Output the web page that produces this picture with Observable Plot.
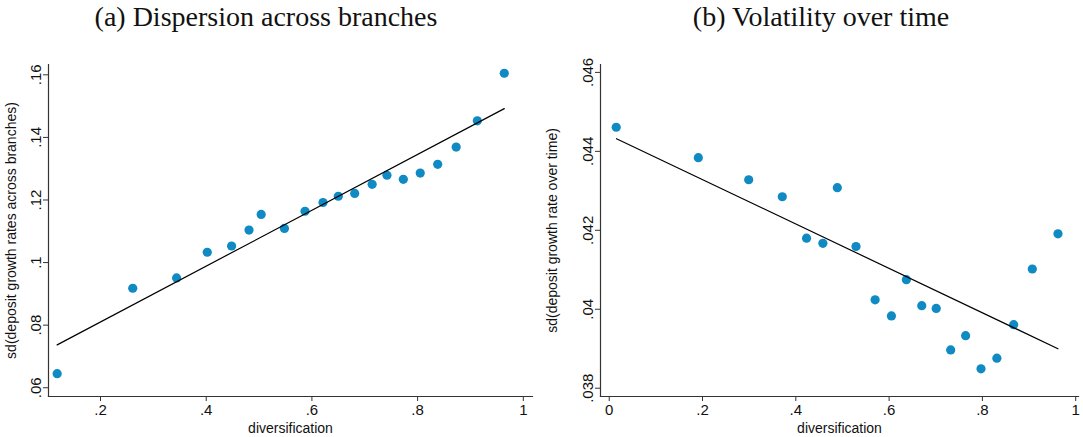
<!DOCTYPE html>
<html>
<head>
<meta charset="utf-8">
<script src="https://cdn.jsdelivr.net/npm/d3@7"></script>
<script src="https://cdn.jsdelivr.net/npm/@observablehq/plot@0.6"></script>
<style>
  html, body { margin: 0; padding: 0; background: #fff; }
  #root { position: relative; width: 1083px; height: 437px; overflow: hidden; background: #fff; }
  .ptitle { position: absolute; top: 0; font-family: "Liberation Serif", "Times New Roman", serif; font-size: 28px; color: #111; white-space: nowrap; transform: translateX(-50%); line-height: 34px; }
  .panel { position: absolute; top: 40px; }
  g[aria-label="x-axis label"] text, g[aria-label="y-axis label"] text { font-size: 14px; }
</style>
</head>
<body>
<div id="root">
  <div class="ptitle" style="left:266px">(a) Dispersion across branches</div>
  <div class="ptitle" style="left:821px">(b) Volatility over time</div>
  <div class="panel" id="pa" style="left:0px"></div>
  <div class="panel" id="pb" style="left:541px"></div>
</div>
<script>
// ---- Panel (a): dispersion across branches ----
const divA = [0.118, 0.261, 0.344, 0.402, 0.448, 0.481, 0.504, 0.548, 0.587, 0.621, 0.650, 0.681, 0.714, 0.742, 0.773, 0.805, 0.838, 0.873, 0.913, 0.964];
const sdA  = [0.0645, 0.0918, 0.0951, 0.1033, 0.1053, 0.1104, 0.1154, 0.1109, 0.1164, 0.1192, 0.1212, 0.1221, 0.1250, 0.1279, 0.1266, 0.1286, 0.1314, 0.1369, 0.1453, 0.1605];
const fitAx = [0.118, 0.964];
const fitAy = [0.0737, 0.1492];
const xTicksA = [0.2, 0.4, 0.6, 0.8, 1];
const yTicksA = [0.06, 0.08, 0.1, 0.12, 0.14, 0.16];

// ---- Panel (b): volatility over time ----
const divB = [0.015, 0.191, 0.299, 0.371, 0.423, 0.458, 0.489, 0.529, 0.570, 0.605, 0.637, 0.670, 0.701, 0.732, 0.764, 0.797, 0.831, 0.867, 0.907, 0.962];
const sdB  = [0.04461, 0.04384, 0.04328, 0.04285, 0.04180, 0.04167, 0.04308, 0.04159, 0.04024, 0.03983, 0.04075, 0.04009, 0.04002, 0.03897, 0.03933, 0.03849, 0.03876, 0.03961, 0.04102, 0.04191];
const fitBx = [0.0156, 0.962];
const fitBy = [0.04432, 0.03900];
const xTicksB = [0, 0.2, 0.4, 0.6, 0.8, 1];
const yTicksB = [0.038, 0.04, 0.042, 0.044, 0.046];

const dotColor = "#0f8ac3";
const axisColor = "#333";
const fmt = d => d === 0 ? "0" : String(+d.toFixed(4)).replace(/^0\./, ".");

function panel({xs, ys, fx, fy, xTicks, yTicks, xDomain, yDomain, yLabel, width, marginLeft, marginRight}) {
  const pts = xs.map((x, i) => ({x, y: ys[i]}));
  const fit = fx.map((x, i) => ({x, y: fy[i]}));
  return Plot.plot({
    width, height: 397,
    marginLeft, marginRight, marginTop: 24, marginBottom: 41,
    x: {domain: xDomain},
    y: {domain: yDomain},
    style: {fontFamily: "'Liberation Sans', Arial, sans-serif", fontSize: "15px", color: "#111", background: "#fff", overflow: "visible"},
    marks: [
      Plot.frame({anchor: "left", stroke: axisColor, strokeWidth: 1.2}),
      Plot.frame({anchor: "bottom", stroke: axisColor, strokeWidth: 1.2}),
      Plot.axisX({ticks: xTicks, tickFormat: fmt, tickSize: 5, tickPadding: 3, stroke: axisColor,
                  label: "diversification", labelAnchor: "center", labelArrow: "none", labelOffset: 36}),
      Plot.axisY({ticks: yTicks, tickFormat: fmt, tickSize: 5, tickPadding: 3, tickRotate: -90, stroke: axisColor,
                  label: yLabel, labelAnchor: "center", labelArrow: "none", labelOffset: marginLeft - 6}),
      Plot.dot(pts, {x: "x", y: "y", r: 4.6, fill: dotColor, stroke: "none"}),
      Plot.line(fit, {x: "x", y: "y", stroke: "#000", strokeWidth: 1.2})
    ]
  });
}

document.getElementById("pa").append(panel({
  xs: divA, ys: sdA, fx: fitAx, fy: fitAy, xTicks: xTicksA, yTicks: yTicksA,
  xDomain: [0.1016, 1.0174], yDomain: [0.0572, 0.1633],
  yLabel: "sd(deposit growth rates across branches)",
  width: 541, marginLeft: 48, marginRight: 9
}));
document.getElementById("pb").append(panel({
  xs: divB, ys: sdB, fx: fitBx, fy: fitBy, xTicks: xTicksB, yTicks: yTicksB,
  xDomain: [-0.0187, 1.006], yDomain: [0.03779, 0.0462],
  yLabel: "sd(deposit growth rate over time)",
  width: 542, marginLeft: 59, marginRight: 5
}));
</script>
</body>
</html>
